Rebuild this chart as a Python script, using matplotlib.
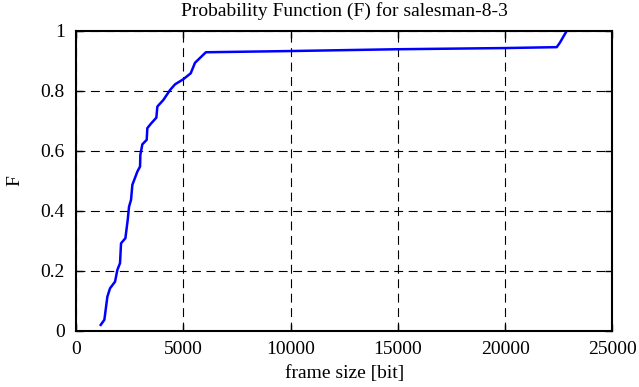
import numpy as np
import matplotlib.pyplot as plt
from matplotlib.ticker import FuncFormatter

# CDF points
frame_size = [1150, 1320, 1380, 1460, 1585, 1817, 1925, 2050, 2097, 2300,
              2408, 2470, 2563, 2625, 2857, 2983, 2997, 3090, 3293, 3323,
              3480, 3743, 3790, 4070, 4380, 4613, 5000, 5345, 5545, 6050,
              9970, 14945, 19990, 22400, 22550, 22865]
F = [0.02, 0.037, 0.07, 0.114, 0.142, 0.164, 0.203, 0.226, 0.292, 0.309,
     0.37, 0.414, 0.437, 0.487, 0.531, 0.548, 0.587, 0.622, 0.637, 0.676,
     0.69, 0.711, 0.748, 0.77, 0.803, 0.822, 0.839, 0.859, 0.894, 0.929,
     0.933, 0.939, 0.943, 0.946, 0.961, 1.0]

xticks = [0, 5000, 10000, 15000, 20000, 25000]
yticks = [0, 0.2, 0.4, 0.6, 0.8, 1]

plt.rcParams['font.family'] = 'Liberation Serif'
plt.rcParams['font.size'] = 14

fig = plt.figure(figsize=(6.39, 3.87), dpi=100)
ax = fig.add_axes([0.119, 0.145, 0.8395, 0.775])
ax.plot(frame_size, F, color='#0000ff', linewidth=1.8)

ax.set_xlim(0, 25000)
ax.set_ylim(0, 1)
ax.set_xticks(xticks)
ax.set_yticks(yticks)
ax.yaxis.set_major_formatter(FuncFormatter(lambda v, p: '%g' % v))
ax.grid(True, color='black', linestyle=(0, (8, 5)), linewidth=0.8)
ax.tick_params(direction='in', top=True, right=True, length=5, width=1,
               labelsize=14)
ax.tick_params(axis='x', pad=7.5)
ax.tick_params(axis='y', pad=8)
for s in ax.spines.values():
    s.set_linewidth(1.5)

ax.set_title('Probability Function (F) for salesman-8-3', fontsize=14, pad=11)
ax.set_xlabel('frame size [bit]', fontsize=14, labelpad=5)
ax.set_ylabel('F', fontsize=14, labelpad=12)

fig.savefig('out.png', dpi=100)
